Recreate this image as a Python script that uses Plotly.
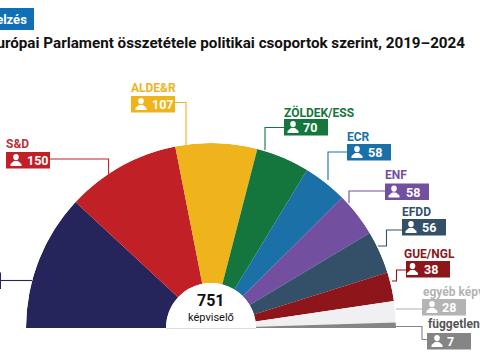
import plotly.graph_objects as go

groups = ["EPP", "S&D", "ALDE&R", "ZÖLDEK/ESS", "ECR", "ENF", "EFDD", "GUE/NGL", "egyéb képviselők", "függetlenek"]
seats = [179, 150, 107, 70, 58, 58, 56, 38, 28, 7]
colors = ["#25255B", "#C02026", "#EFB41C", "#14763D", "#1C70A8", "#734FA0", "#345069", "#8E1519", "#F0F0F2", "#858585"]
label_colors = ["#25255B", "#B5343A", "#EFB41C", "#14763D", "#1C70A8", "#734FA0", "#345069", "#8E1519", "#B4B4B4", "#555555"]
box_colors = ["#25255B", "#C02026", "#EFB41C", "#14763D", "#1C70A8", "#734FA0", "#345069", "#8E1519", "#B4B4B4", "#858585"]
title_text = "Európai Parlament összetétele politikai csoportok szerint, 2019–2024"
badge_text = "Előrejelzés"
total_text = "751"
total_unit = "képviselő"

W, H = 480, 360
CX, CY, R, R0 = 211, 328, 185, 45
FONT = "Roboto"


def px(x):
    return x / W


def py(y):
    return 1 - y / H


# box left, box top, icon offset, number offset, label x, label y, leader polyline (pixels)
placements = [
    (-43, 272.5, 10, 20, -44, 264, [(1, 280.5), (32, 280.5)]),
    (6, 152, 10, 20, 5, 144, [(50, 159), (108.5, 159), (108.5, 178)]),
    (131, 96, 10, 20, 130, 87.5, [(175, 102.5), (186, 102.5), (186, 145)]),
    (284, 119, 9, 18, 283, 112, [(284, 127.5), (265, 127.5), (265, 150)]),
    (347, 144, 10, 20, 346, 136.5, [(347, 152), (328, 152), (328, 180)]),
    (385, 183.5, 9, 20, 384, 175, [(385, 191), (349, 191), (349, 203)]),
    (402, 219, 9, 19, 401, 211.5, [(402, 230), (386.5, 230), (386.5, 246), (378, 246)]),
    (406, 261, 6.5, 17, 403, 253.5, [(406, 270), (396.5, 270), (396.5, 281), (392, 281)]),
    (422, 299, 10, 19, 422, 291.5, [(422, 309), (396, 309)]),
    (427, 333, 10, 19, 427, 323.5, [(427, 339.5), (422, 339.5), (422, 326.5), (396, 326.5)]),
]
BW, BH = 44, 16.5

total = sum(seats)
thetas, widths = [], []
acc = 0
for s in seats:
    w = s / total * 180
    thetas.append(acc + w / 2)
    widths.append(w)
    acc += w

fig = go.Figure(
    go.Barpolar(
        r=[1] * len(seats),
        theta=thetas,
        width=widths,
        marker=dict(color=colors, line=dict(width=0)),
        text=groups,
        hoverinfo="text",
    )
)

shapes = []
annos = []


def anno(x, y, text, size, color, anchor="left", bold=False):
    annos.append(dict(
        x=px(x), y=py(y), xref="paper", yref="paper", text=f"<b>{text}</b>" if bold else text,
        showarrow=False, xanchor=anchor, yanchor="middle", borderpad=0,
        font=dict(family=FONT, size=size, color=color),
    ))


for g, s, lc, bc, (bx, by, ix, nx, lx, ly, leader) in zip(groups, seats, label_colors, box_colors, placements):
    path = "M " + " L ".join(f"{px(x)},{py(y)}" for x, y in leader)
    shapes.append(dict(type="path", path=path, xref="paper", yref="paper",
                       line=dict(color=bc, width=1.1), layer="below"))
    shapes.append(dict(type="rect", x0=px(bx), x1=px(bx + BW), y0=py(by), y1=py(by + BH),
                       xref="paper", yref="paper", fillcolor=bc, line=dict(width=0)))
    hx = bx + ix
    shapes.append(dict(type="circle", x0=px(hx - 2.8), x1=px(hx + 2.8), y0=py(by + 2), y1=py(by + 8.2),
                       xref="paper", yref="paper", fillcolor="white", line=dict(width=0)))
    body = [(hx - 5.5, by + 14), (hx - 5.5, by + 12), (hx - 2, by + 9), (hx + 2, by + 9),
            (hx + 5.5, by + 12), (hx + 5.5, by + 14)]
    shapes.append(dict(type="path", path="M " + " L ".join(f"{px(x)},{py(y)}" for x, y in body) + " Z",
                       xref="paper", yref="paper", fillcolor="white", line=dict(width=0)))
    anno(bx + nx, by + 8.5, str(s), 12.5, "white", bold=True)
    anno(lx, ly, g, 12, lc, bold=True)

# baseline under the hole
shapes.append(dict(type="line", x0=px(CX - R0), x1=px(CX + R0), y0=py(CY + 0.5), y1=py(CY + 0.5),
                   xref="paper", yref="paper", line=dict(color="#DDDDDD", width=1)))
# header
shapes.append(dict(type="rect", x0=px(-40), x1=px(34), y0=py(8), y1=py(30), xref="paper", yref="paper",
                   fillcolor="#0F6FB7", line=dict(width=0)))
anno(27.5, 19, badge_text, 13, "white", anchor="right", bold=True)
anno(466, 43, title_text, 15.2, "#111111", anchor="right", bold=True)
anno(CX, 300.5, total_text, 16, "#111111", anchor="center", bold=True)
anno(CX, 317, total_unit, 11, "#111111", anchor="center")

fig.update_layout(
    width=W, height=H, autosize=False,
    margin=dict(l=0, r=0, t=0, b=0),
    paper_bgcolor="white", plot_bgcolor="white",
    showlegend=False,
    polar=dict(
        domain=dict(x=[px(CX - R), px(CX + R)], y=[py(CY), py(CY - R)]),
        sector=[0, 180],
        hole=R0 / R,
        bgcolor="white",
        radialaxis=dict(visible=False, range=[0, 1]),
        angularaxis=dict(visible=False, direction="clockwise", rotation=180),
    ),
    shapes=shapes,
    annotations=annos,
)
fig.write_html(
    "out.html",
    config=dict(displayModeBar=False),
    post_script="document.body.style.margin='0';document.documentElement.style.overflow='hidden';",
)
